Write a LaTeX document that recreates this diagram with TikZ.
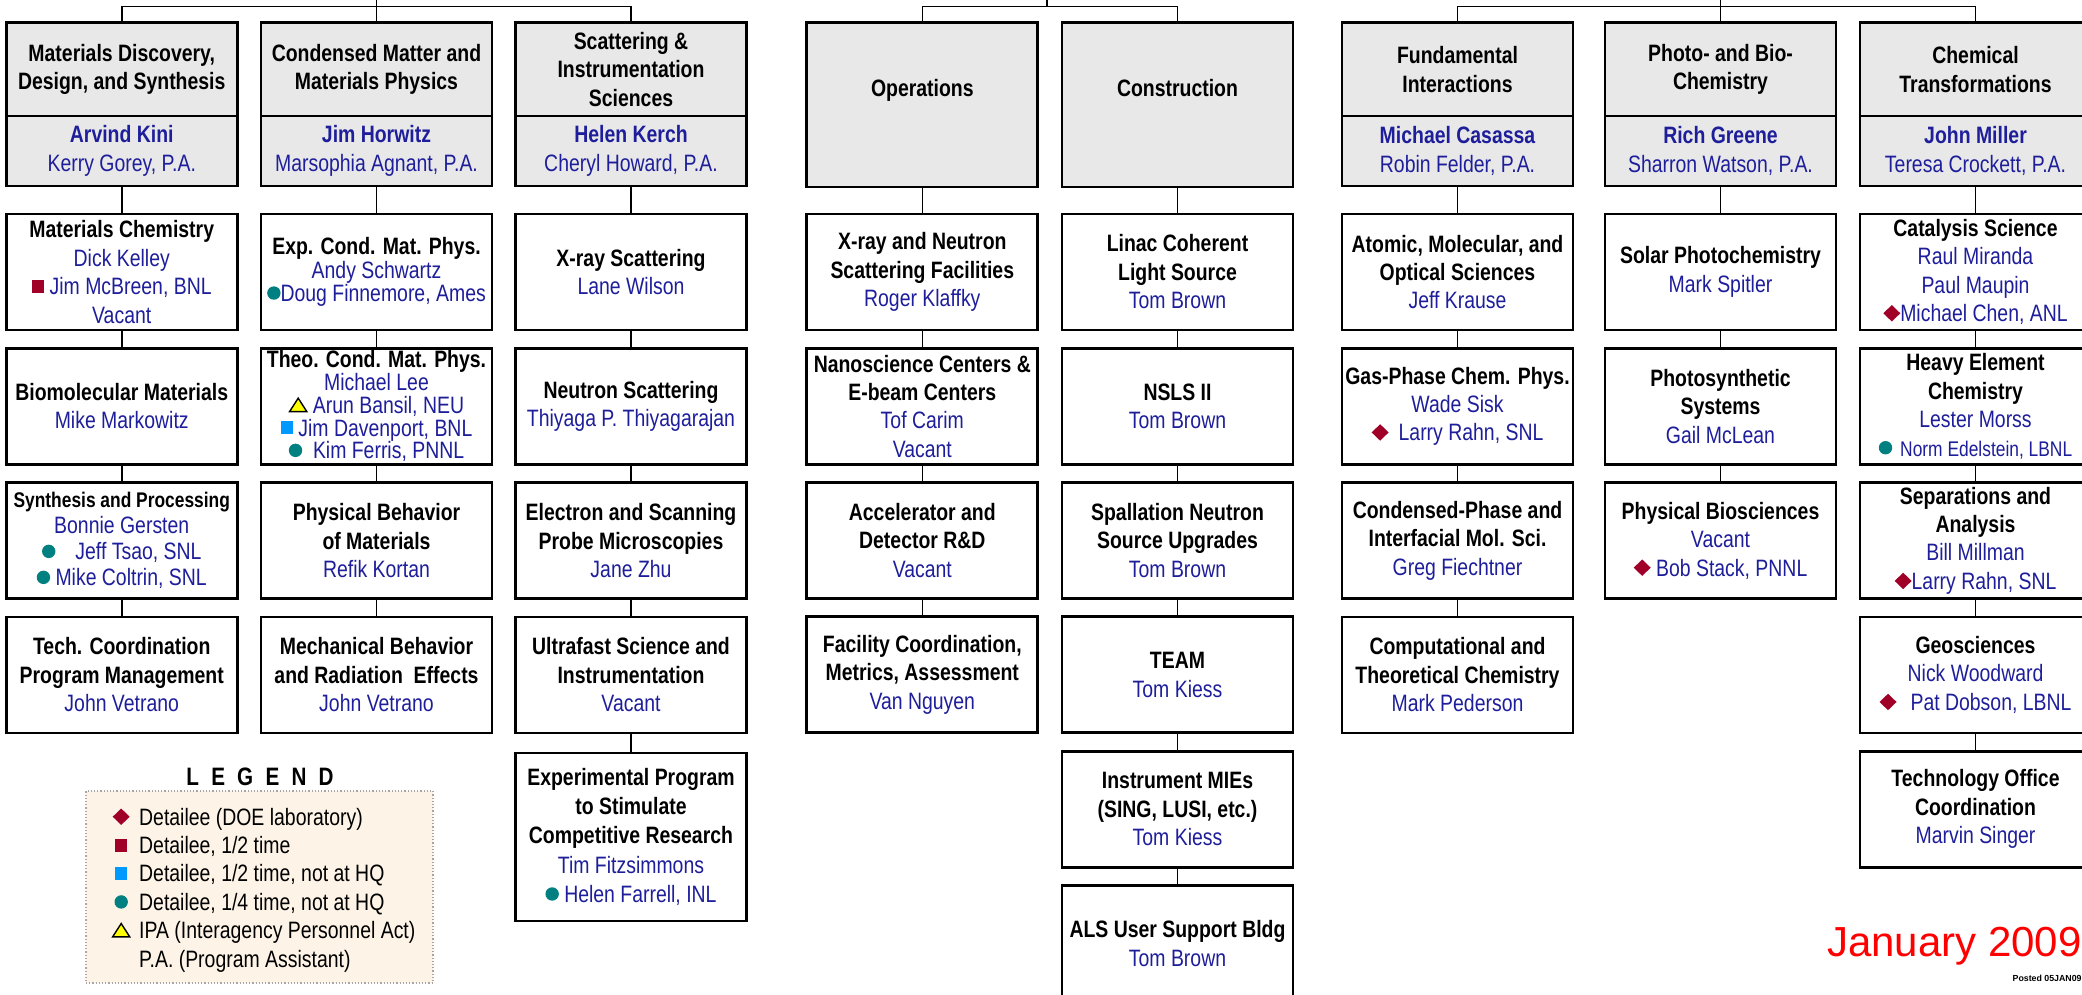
\documentclass[tikz,border=0pt]{standalone}
\usepackage{xcolor}
\usepackage{fontspec}
\setmainfont{Liberation Sans}[FakeStretch=0.82]
\newfontfamily\datefont{Liberation Sans}
\usepackage{tikz}

\definecolor{hdrgray}{RGB}{232,232,232}
\definecolor{nameblue}{RGB}{30,30,155}
\definecolor{detred}{RGB}{160,0,40}
\definecolor{halfblue}{RGB}{0,153,255}
\definecolor{quarterteal}{RGB}{0,128,128}
\definecolor{ipayellow}{RGB}{255,255,0}
\definecolor{legendfill}{RGB}{253,244,231}

% markers used next to the detailees
\newcommand{\detDOE}{\tikz[baseline=0pt]\fill[detred] (0,4.2pt) -- (4.25pt,8.3pt) -- (8.5pt,4.2pt) -- (4.25pt,0.1pt) -- cycle;}
\newcommand{\detHalf}{\tikz[baseline=0pt]\fill[detred] (0,0.9pt) rectangle (6.2pt,7.5pt);}
\newcommand{\detHalfOff}{\tikz[baseline=0pt]\fill[halfblue] (0,0.9pt) rectangle (6.2pt,7.5pt);}
\newcommand{\detQuarter}{\tikz[baseline=0pt]\fill[quarterteal] (3.35pt,4.2pt) circle (3.35pt);}
\newcommand{\ipaSym}{\tikz[baseline=0pt]\filldraw[fill=ipayellow, draw=black, line width=0.7pt] (0,0.9pt) -- (8.6pt,0.9pt) -- (4.3pt,7.6pt) -- cycle;}
\newcommand{\keymark}[1]{\makebox[8.8pt]{#1}\hspace{4.6pt}}
\newcommand{\who}[1]{\textcolor{nameblue}{\mdseries #1}}
\newcommand{\lead}[1]{\textcolor{nameblue}{\bfseries #1}}

\tikzstyle{areabox} = [rectangle, minimum width=115.5pt, minimum height=46.65pt, inner xsep=0.5pt, inner ysep=0.5pt, text centered, align=center, draw=black, line width=1.4pt, fill=hdrgray, font=\fontsize{11.85}{14.2}\selectfont\bfseries]
\tikzstyle{leadbox} = [areabox, minimum height=35pt]
\tikzstyle{officebox} = [areabox, minimum height=82.15pt]
\tikzstyle{teambox} = [areabox, minimum height=58pt, fill=white]
\tikzstyle{tallbox} = [teambox, minimum height=84pt]
\tikzstyle{wire} = [line width=0.8pt]
\tikzstyle{keyframe} = [rectangle, minimum width=173.5pt, minimum height=96pt, draw=gray!70, densely dotted, line width=0.6pt, fill=legendfill]
\tikzstyle{keylist} = [anchor=west, align=left, inner sep=0pt, font=\fontsize{11.85}{14.2}\selectfont]

\begin{document}
\begin{tikzpicture}[x=0.5pt, y=-0.5pt, node distance=67.15pt]
      \useasboundingbox (0,0) rectangle (2082,995);

      % materials sciences
      \node (mdsArea) [areabox] at (121.75,69.4) {Materials Discovery,\\Design, and Synthesis};
      \node (mdsLead) [leadbox, node distance=40.8pt, below of=mdsArea] {\lead{Arvind Kini}\\\who{Kerry Gorey, P.A.}};
      \node (matChem) [teambox, node distance=60.5pt, below of=mdsLead] {Materials Chemistry\\\who{Dick Kelley}\\\who{\detHalf\ Jim McBreen, BNL}\\\who{Vacant}};
      \node (bioMat) [teambox, below of=matChem] {Biomolecular Materials\\\who{Mike Markowitz}};
      \node (synProc) [teambox, below of=bioMat, font=\fontsize{11.85}{13}\selectfont\bfseries] {{\fontsize{10.6}{13}\selectfont Synthesis and Processing}\\\who{Bonnie Gersten}\\\who{\detQuarter\hspace{10pt}Jeff Tsao, SNL}\\\who{\detQuarter\ Mike Coltrin, SNL}};
      \node (techCoord) [teambox, below of=synProc] {Tech. Coordination\\Program Management\\\who{John Vetrano}};

      \node (cmpArea) [areabox] at (376.5,69.4) {Condensed Matter and\\Materials Physics};
      \node (cmpLead) [leadbox, node distance=40.8pt, below of=cmpArea] {\lead{Jim Horwitz}\\\who{Marsophia Agnant, P.A.}};
      \node (expCond) [teambox, node distance=60.5pt, below of=cmpLead, font=\fontsize{11.85}{11.65}\selectfont\bfseries] {Exp. Cond. Mat. Phys.\\\who{Andy Schwartz}\\\who{\detQuarter Doug Finnemore, Ames}};
      \node (theoCond) [teambox, below of=expCond, font=\fontsize{11.85}{11.35}\selectfont\bfseries] {Theo. Cond. Mat. Phys.\\\who{Michael Lee}\\\who{\ipaSym\ Arun Bansil, NEU}\\\who{\detHalfOff\ Jim Davenport, BNL}\\\who{\detQuarter\ \ Kim Ferris, PNNL}};
      \node (physBeh) [teambox, below of=theoCond] {Physical Behavior\\of Materials\\\who{Refik Kortan}};
      \node (mechBeh) [teambox, below of=physBeh] {Mechanical Behavior\\and Radiation\ \ Effects\\\who{John Vetrano}};

      \node (sisArea) [areabox] at (631,69.4) {Scattering \&\\Instrumentation\\Sciences};
      \node (sisLead) [leadbox, node distance=40.8pt, below of=sisArea] {\lead{Helen Kerch}\\\who{Cheryl Howard, P.A.}};
      \node (xray) [teambox, node distance=60.5pt, below of=sisLead] {X-ray Scattering\\\who{Lane Wilson}};
      \node (neutron) [teambox, below of=xray] {Neutron Scattering\\\who{Thiyaga P. Thiyagarajan}};
      \node (microscopy) [teambox, below of=neutron] {Electron and Scanning\\Probe Microscopies\\\who{Jane Zhu}};
      \node (ultrafast) [teambox, below of=microscopy] {Ultrafast Science and\\Instrumentation\\\who{Vacant}};
      \node (epscor) [tallbox, node distance=81pt, below of=ultrafast, font=\fontsize{11.85}{14.6}\selectfont\bfseries] {Experimental Program\\to Stimulate\\Competitive Research\\\who{Tim Fitzsimmons}\\\who{\detQuarter\ Helen Farrell, INL}};

      % scientific user facilities
      \node (ops) [officebox] at (922.3,104.9) {Operations\\[3pt]~};
      \node (xnFac) [teambox, node distance=83.5pt, below of=ops] {X-ray and Neutron\\Scattering Facilities\\\who{Roger Klaffky}};
      \node (nanoCtr) [teambox, below of=xnFac] {Nanoscience Centers \&\\E-beam Centers\\\who{Tof Carim}\\\who{Vacant}};
      \node (accel) [teambox, below of=nanoCtr] {Accelerator and\\Detector R\&D\\\who{Vacant}};
      \node (facCoord) [teambox, below of=accel] {Facility Coordination,\\Metrics, Assessment\\\who{Van Nguyen}};

      \node (con) [officebox] at (1177.5,104.9) {Construction\\[3pt]~};
      \node (lcls) [teambox, node distance=83.5pt, below of=con] {Linac Coherent\\Light Source\\\who{Tom Brown}};
      \node (nsls) [teambox, below of=lcls] {NSLS II\\\who{Tom Brown}};
      \node (sns) [teambox, below of=nsls] {Spallation Neutron\\Source Upgrades\\\who{Tom Brown}};
      \node (team) [teambox, below of=sns] {TEAM\\\who{Tom Kiess}};
      \node (mie) [teambox, below of=team] {Instrument MIEs\\(SING, LUSI, etc.)\\\who{Tom Kiess}};
      \node (als) [teambox, below of=mie] {ALS User Support Bldg\\\who{Tom Brown}};

      % chemical sciences, geosciences and biosciences
      \node (fiArea) [areabox] at (1457.5,69.4) {Fundamental\\Interactions};
      \node (fiLead) [leadbox, node distance=40.8pt, below of=fiArea] {\lead{Michael Casassa}\\\who{Robin Felder, P.A.}};
      \node (amos) [teambox, node distance=60.5pt, below of=fiLead] {Atomic, Molecular, and\\Optical Sciences\\\who{Jeff Krause}};
      \node (gasPhase) [teambox, below of=amos] {Gas-Phase Chem. Phys.\\\who{Wade Sisk}\\\who{\detDOE\hspace{5pt}Larry Rahn, SNL}};
      \node (condPhase) [teambox, below of=gasPhase] {Condensed-Phase and\\Interfacial Mol. Sci.\\\who{Greg Fiechtner}};
      \node (compChem) [teambox, below of=condPhase] {Computational and\\Theoretical Chemistry\\\who{Mark Pederson}};

      \node (pbcArea) [areabox] at (1720.5,69.4) {Photo- and Bio-\\Chemistry};
      \node (pbcLead) [leadbox, node distance=40.8pt, below of=pbcArea] {\lead{Rich Greene}\\\who{Sharron Watson, P.A.}};
      \node (solar) [teambox, node distance=60.5pt, below of=pbcLead] {Solar Photochemistry\\\who{Mark Spitler}};
      \node (photoSys) [teambox, below of=solar] {Photosynthetic\\Systems\\\who{Gail McLean}};
      \node (physBio) [teambox, below of=photoSys] {Physical Biosciences\\\who{Vacant}\\\who{\detDOE\ Bob Stack, PNNL}};

      \node (ctArea) [areabox] at (1975.5,69.4) {Chemical\\Transformations};
      \node (ctLead) [leadbox, node distance=40.8pt, below of=ctArea] {\lead{John Miller}\\\who{Teresa Crockett, P.A.}};
      \node (catalysis) [teambox, node distance=60.5pt, below of=ctLead] {Catalysis Science\\\who{Raul Miranda}\\\who{Paul Maupin}\\\who{\detDOE Michael Chen, ANL}};
      \node (heavyEl) [teambox, below of=catalysis] {Heavy Element\\Chemistry\\\who{Lester Morss}\\\who{{\fontsize{10.6}{14.2}\selectfont\detQuarter\hspace{4pt}Norm Edelstein, LBNL}}};
      \node (separations) [teambox, below of=heavyEl] {Separations and\\Analysis\\\who{Bill Millman}\\\who{\detDOE Larry Rahn, SNL}};
      \node (geo) [teambox, below of=separations] {Geosciences\\\who{Nick Woodward}\\\who{\detDOE\hspace{7pt}Pat Dobson, LBNL}};
      \node (techOffice) [teambox, below of=geo] {Technology Office\\Coordination\\\who{Marvin Singer}};

      % top buses
      \coordinate (topL) at (376.5,0);
      \coordinate (busL) at (376.5,6.7);
      \coordinate (topM) at (1047,0);
      \coordinate (busM) at (1047,6.7);
      \coordinate (topR) at (1720.5,0);
      \coordinate (busR) at (1720.5,6.7);
      \draw [wire] (mdsArea.north) |- (busL) -| (sisArea.north);
      \draw [wire] (topL) -- (cmpArea.north);
      \draw [wire] (ops.north) |- (busM) -| (con.north);
      \draw [wire] (topM) -- (busM);
      \draw [wire] (fiArea.north) |- (busR) -| (ctArea.north);
      \draw [wire] (topR) -- (pbcArea.north);

      % columns
      \draw [wire] (mdsLead) -- (matChem);
      \draw [wire] (matChem) -- (bioMat);
      \draw [wire] (bioMat) -- (synProc);
      \draw [wire] (synProc) -- (techCoord);
      \draw [wire] (cmpLead) -- (expCond);
      \draw [wire] (expCond) -- (theoCond);
      \draw [wire] (theoCond) -- (physBeh);
      \draw [wire] (physBeh) -- (mechBeh);
      \draw [wire] (sisLead) -- (xray);
      \draw [wire] (xray) -- (neutron);
      \draw [wire] (neutron) -- (microscopy);
      \draw [wire] (microscopy) -- (ultrafast);
      \draw [wire] (ultrafast) -- (epscor);
      \draw [wire] (ops) -- (xnFac);
      \draw [wire] (xnFac) -- (nanoCtr);
      \draw [wire] (nanoCtr) -- (accel);
      \draw [wire] (accel) -- (facCoord);
      \draw [wire] (con) -- (lcls);
      \draw [wire] (lcls) -- (nsls);
      \draw [wire] (nsls) -- (sns);
      \draw [wire] (sns) -- (team);
      \draw [wire] (team) -- (mie);
      \draw [wire] (mie) -- (als);
      \draw [wire] (fiLead) -- (amos);
      \draw [wire] (amos) -- (gasPhase);
      \draw [wire] (gasPhase) -- (condPhase);
      \draw [wire] (condPhase) -- (compChem);
      \draw [wire] (pbcLead) -- (solar);
      \draw [wire] (solar) -- (photoSys);
      \draw [wire] (photoSys) -- (physBio);
      \draw [wire] (ctLead) -- (catalysis);
      \draw [wire] (catalysis) -- (heavyEl);
      \draw [wire] (heavyEl) -- (separations);
      \draw [wire] (separations) -- (geo);
      \draw [wire] (geo) -- (techOffice);

      % legend
      \node (keyTitle) at (260,777) {\bfseries\fontsize{12.6}{15}\selectfont{\spaceskip=6.1pt L E G E N D}};
      \node (keyFrame) [keyframe] at (259.5,887) {};
      \node (keyList) [keylist] at (112,890) {\keymark{\detDOE}Detailee (DOE laboratory)\\\keymark{\detHalf}Detailee, 1/2 time\\\keymark{\detHalfOff}Detailee, 1/2 time, not at HQ\\\keymark{\detQuarter}Detailee, 1/4 time, not at HQ\\\keymark{\ipaSym}IPA (Interagency Personnel Act)\\\keymark{}P.A. (Program Assistant)};

      \node (stamp) [anchor=base east, inner sep=0pt, text=red] at (2082,956) {\datefont\fontsize{21}{25}\selectfont January 2009};
      \node (posted) [anchor=base east, inner sep=0pt] at (2082,981) {\datefont\bfseries\fontsize{4.4}{5}\selectfont Posted 05JAN09};
    \end{tikzpicture}
\end{document}
